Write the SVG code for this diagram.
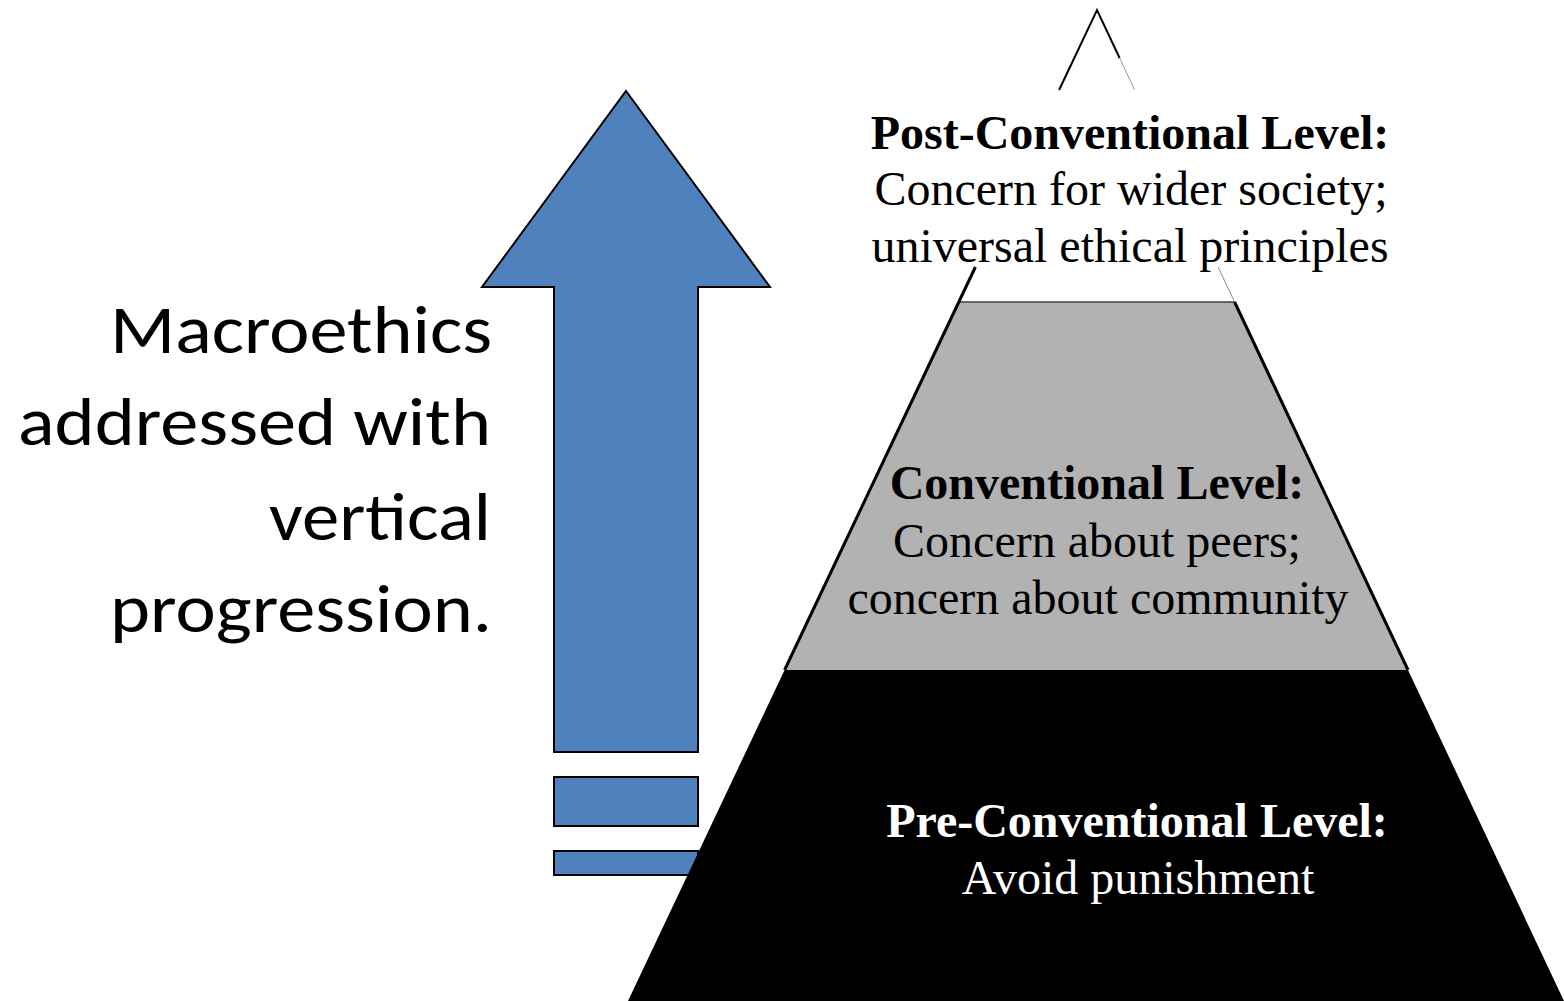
<svg xmlns="http://www.w3.org/2000/svg" width="1564" height="1001" viewBox="0 0 1564 1001">
  <style>
    .arrowfill { fill: #4f81bd; stroke: #000; stroke-width: 2; stroke-linejoin: miter; }
    .side { font-family: Carlito, Lato, "Liberation Sans", sans-serif; font-size: 68px; fill: #000; text-anchor: end; }
    .hd { font-family: "Liberation Serif", "Times New Roman", serif; font-weight: bold; font-size: 48px; text-anchor: middle; }
    .bd { font-family: "Liberation Serif", "Times New Roman", serif; font-size: 48px; text-anchor: middle; }
  </style>
  <rect x="0" y="0" width="1564" height="1001" fill="#ffffff"/>

  <g id="arrow">
    <polygon class="arrowfill" points="626,91 770,287 698,287 698,752 554,752 554,287 482,287"/>
    <rect class="arrowfill" x="554" y="777" width="144" height="49"/>
    <rect class="arrowfill" x="554" y="851" width="144" height="24"/>
  </g>

  <g id="side-label">
    <text class="side" x="492" y="353" textLength="382" lengthAdjust="spacingAndGlyphs">Macroethics</text>
    <text class="side" x="491" y="445" textLength="473" lengthAdjust="spacingAndGlyphs">addressed with</text>
    <text class="side" x="491" y="540" textLength="222" lengthAdjust="spacingAndGlyphs">vertical</text>
    <text class="side" x="492" y="632" textLength="382" lengthAdjust="spacingAndGlyphs">progression.</text>
  </g>

  <g id="pre-conventional">
    <polygon points="784.6,670 1408,670 1564,1001 628,1001" fill="#000000"/>
    <text class="hd" x="1137" y="837" fill="#ffffff">Pre-Conventional Level:</text>
    <text class="bd" x="1138" y="894" fill="#ffffff">Avoid punishment</text>
  </g>

  <g id="conventional">
    <polygon points="958.8,302 1234.6,302 1408,670 784.6,670" fill="#b2b2b2"/>
    <line x1="958.8" y1="302" x2="1234.6" y2="302" stroke="#404040" stroke-width="1.5"/>
    <line x1="958.8" y1="302" x2="784.6" y2="670" stroke="#000" stroke-width="3"/>
    <line x1="1234.6" y1="302" x2="1408" y2="670" stroke="#000" stroke-width="3"/>
    <text class="hd" x="1097" y="499">Conventional Level:</text>
    <text class="bd" x="1097" y="557">Concern about peers;</text>
    <text class="bd" x="1098" y="614">concern about community</text>
  </g>

  <g id="post-conventional">
    <polyline points="1059.1,90 1097,10 1119.6,58" fill="none" stroke="#000" stroke-width="2"/>
    <line x1="1119.6" y1="58" x2="1134.7" y2="90" stroke="#9a9a9a" stroke-width="1"/>
    <line x1="975.4" y1="267" x2="958.8" y2="302" stroke="#000" stroke-width="3"/>
    <line x1="1218.1" y1="267" x2="1234.6" y2="302" stroke="#8a8a8a" stroke-width="1"/>
    <text class="hd" x="1130" y="149">Post-Conventional Level:</text>
    <text class="bd" x="1131" y="205">Concern for wider society;</text>
    <text class="bd" x="1130" y="262">universal ethical principles</text>
  </g>
</svg>
